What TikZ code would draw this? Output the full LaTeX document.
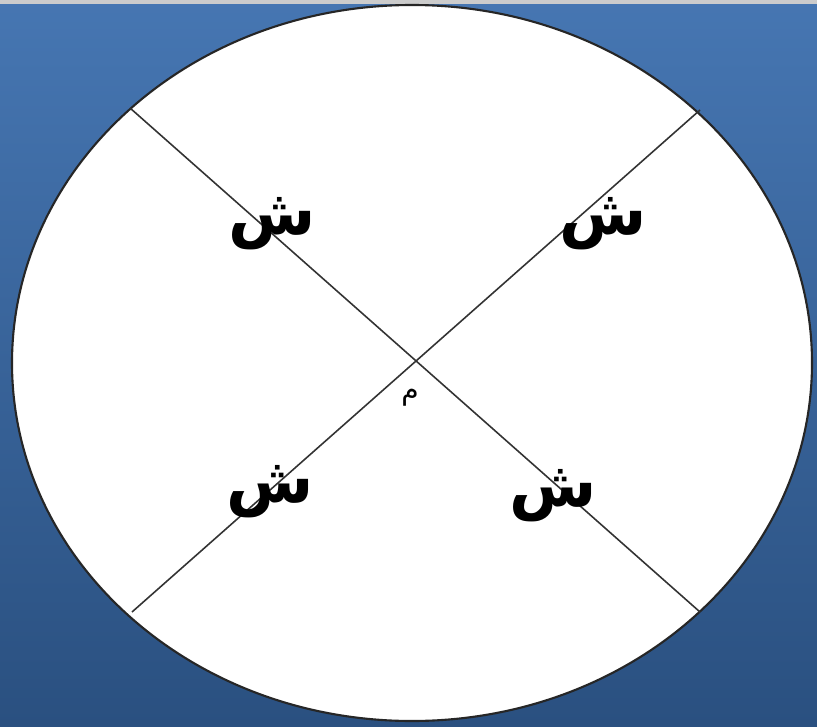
\documentclass[tikz,border=0pt]{standalone}
\usepackage{fontspec}
\newfontfamily\arabicfont[Script=Arabic]{DejaVu Sans}
\TeXXeTstate=1
\usepackage{tikz}
\usetikzlibrary{calc}
\usepackage{xcolor}
\definecolor{bgtop}{RGB}{70,118,178}
\definecolor{bgbot}{RGB}{42,80,128}

\begin{document}
\begin{tikzpicture}[x=0.02cm,y=-0.02cm]
  \newcommand{\harf}[3]{%
    \node[font=\arabicfont\bfseries#3] (#1) at #2 {\beginR ش\endR};
  }
  % background
  \shade[top color=bgtop,bottom color=bgbot] (0,0) rectangle (817,726);
  \fill[gray!40] (0,0) rectangle (817,4);
  \useasboundingbox (0,0) rectangle (817,726);
  % circle
  \draw[fill=white,draw=black!85,line width=1.2pt] (412,363) ellipse (400 and 358);
  \coordinate (a1) at (130,108);
  \coordinate (a2) at (700,612);
  \coordinate (b1) at (700,110);
  \coordinate (b2) at (132,612);
  \draw[black!80,line width=0.9pt] (a1) -- (a2);
  \draw[black!80,line width=0.9pt] (b1) -- (b2);
  % letters
  \harf{sh1}{(272,224)}{\fontsize{36}{40}\selectfont}
  \harf{sh2}{(603,224)}{\fontsize{36}{40}\selectfont}
  \harf{sh3}{(270,492)}{\fontsize{36}{40}\selectfont}
  \harf{sh4}{(553,496)}{\fontsize{36}{40}\selectfont}
  \node[font=\arabicfont\fontsize{16}{18}\selectfont] (mim) at (410,398) {\beginR م\endR};
\end{tikzpicture}
\end{document}
